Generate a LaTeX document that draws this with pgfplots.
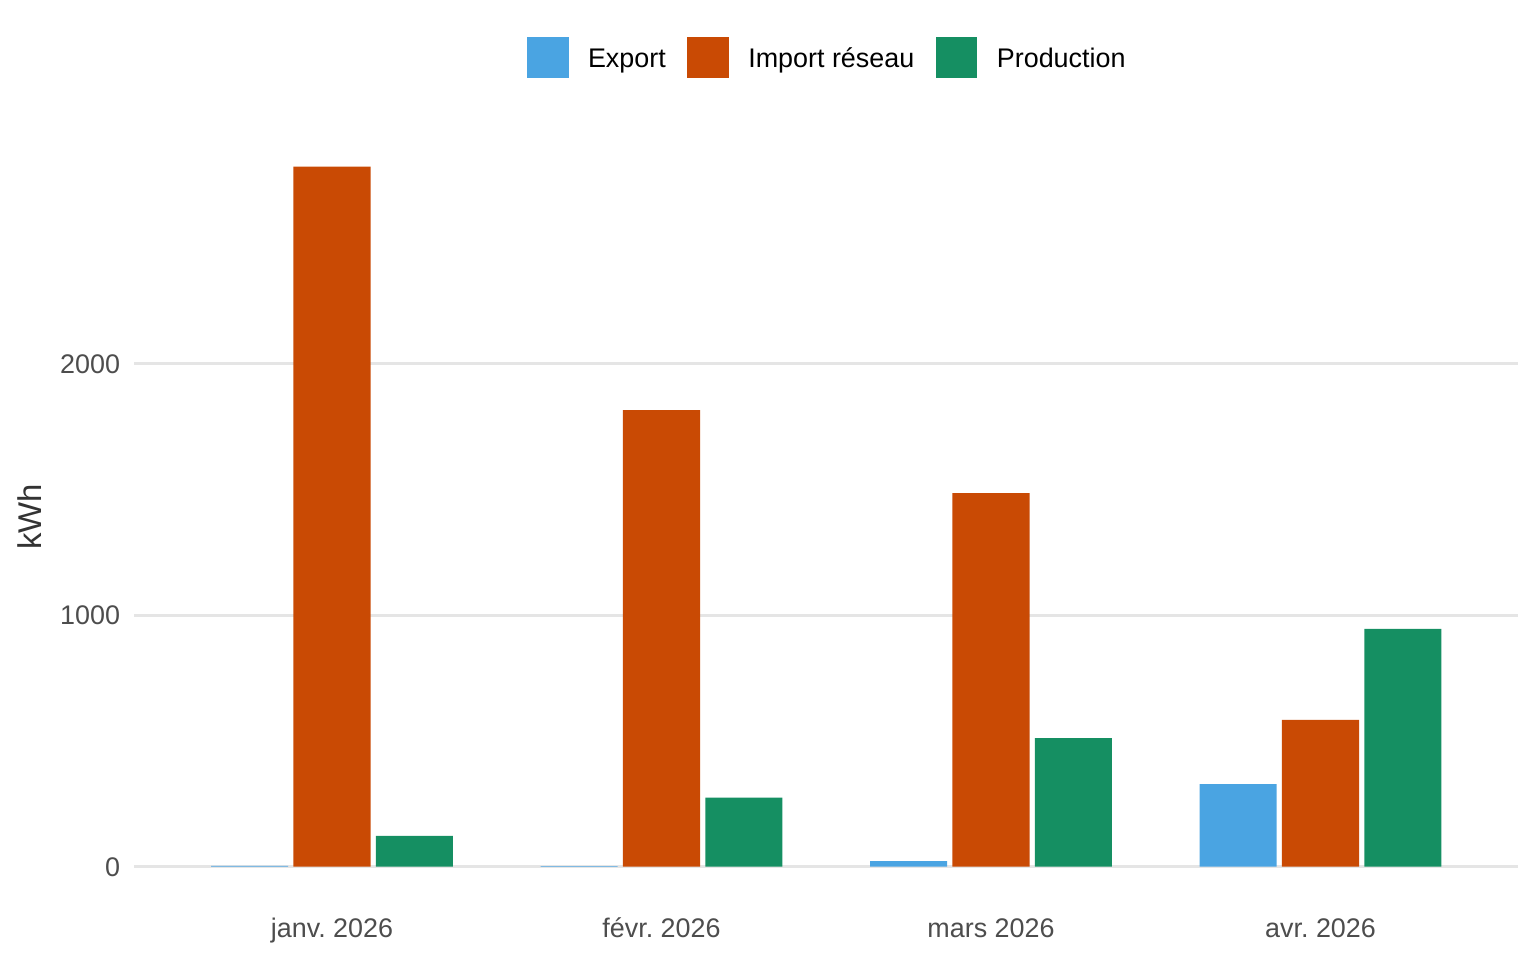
\documentclass[border=0pt]{standalone}
\usepackage{fontspec}
\setmainfont{Liberation Sans}
\usepackage{pgfplots}
\pgfplotsset{compat=1.18}
\definecolor{cexp}{HTML}{4AA4E2}
\definecolor{cimp}{HTML}{C94A04}
\definecolor{cprod}{HTML}{158F62}
\definecolor{tickgray}{HTML}{4D4D4D}
\definecolor{labgray}{HTML}{333333}
\definecolor{gridgray}{HTML}{E5E5E5}
\pgfplotsset{sq legend/.style={legend image code/.code={\fill[##1,draw=none] (0bp,-10.25bp) rectangle (20.75bp,10.25bp);}}}
\frenchspacing
\begin{document}
\frenchspacing
\begin{tikzpicture}[x=1bp,y=1bp]
\path[use as bounding box] (0,0) rectangle (768,480);
\begin{axis}[
  at={(67.15bp,29.15bp)}, anchor=south west,
  width=691.95bp, height=385bp, scale only axis,
  xmin=-0.6, xmax=3.6, ymin=-139, ymax=2924,
  axis line style={draw=none},
  major tick length=0pt,
  ymajorgrids, grid style={color=gridgray, line width=1.5bp},
  ytick={0,1000,2000}, yticklabels={0,1000,2000},
  xtick={0,1,2,3}, xticklabels={janv.\ 2026, févr.\ 2026, mars 2026, avr.\ 2026},
  ticklabel style={font=\fontsize{13.5}{16}\selectfont, text=tickgray},
  xticklabel style={text height=9.7bp, text depth=3bp, yshift=-4.5bp},
  yticklabel style={xshift=-3.6bp},
  ylabel={kWh},
  ylabel style={font=\fontsize{16.5}{20}\selectfont, text=labgray, anchor=center, at={(axis description cs:-0.0754,0.5)}},
  ybar, bar width=0.234,
  legend columns=3,
  legend style={at={(0.5,1.0963)}, anchor=center, draw=none, fill=none,
    font=\fontsize{13.5}{16}\selectfont,
    nodes={inner xsep=0pt, yshift=-1bp},
    /tikz/every odd column/.append style={column sep=9.75bp},
    /tikz/every even column/.append style={column sep=10.8bp}},
]
\addplot[fill=cexp, draw=none, bar shift=-0.25, sq legend] coordinates {(0,3) (1,2) (2,22) (3,329)};
\addplot[fill=cimp, draw=none, bar shift=0, sq legend] coordinates {(0,2785) (1,1816) (2,1486) (3,584)};
\addplot[fill=cprod, draw=none, bar shift=0.25, sq legend] coordinates {(0,123) (1,275) (2,512) (3,946)};
\legend{Export, Import réseau, Production}
\end{axis}
\end{tikzpicture}
\end{document}
